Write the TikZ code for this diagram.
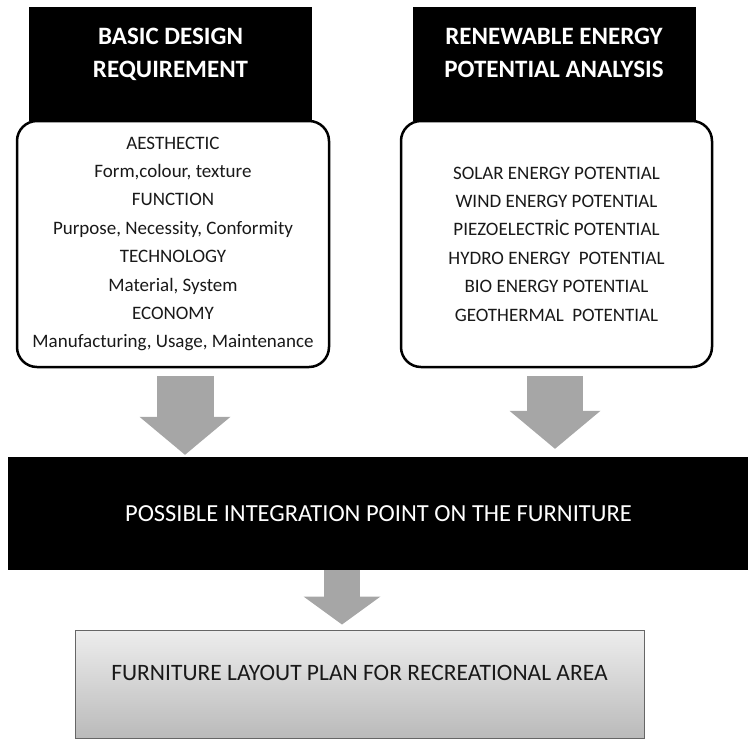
\documentclass[tikz,border=0pt]{standalone}
\usepackage{fontspec}
\setmainfont{Carlito}
\usetikzlibrary{arrows.meta}

\begin{document}
\begin{tikzpicture}[x=1pt, y=-1pt,
    headbox/.style={fill=black, text=white, inner sep=0pt, align=center, font=\bfseries\fontsize{25}{33}\selectfont, minimum width=283pt, minimum height=114pt, text depth=22pt},
    bodybox/.style={draw, line width=2.5pt, rounded corners=20pt, fill=white, inner sep=0pt, align=center, font=\fontsize{19}{28.4}\selectfont, text=black!90, minimum height=246pt},
    blockarrow/.style={color=black!35, line width=57pt, -{Triangle[width=91pt, length=38pt, line width=0pt]}}]
            \useasboundingbox (0, 0) rectangle (748, 740);
            \node[headbox] (basichead) at (170.5, 64) {BASIC DESIGN\\REQUIREMENT};
            \node[headbox] (energyhead) at (554, 64) {RENEWABLE ENERGY\\POTENTIAL ANALYSIS};
            \node[bodybox, minimum width=312pt] (basicbody) at (173, 244) {AESTHECTIC\\Form,colour, texture\\FUNCTION\\Purpose, Necessity, Conformity\\TECHNOLOGY\\Material, System\\ECONOMY\\Manufacturing, Usage, Maintenance};
            \node[bodybox, minimum width=311pt] (energybody) at (556.5, 244) {SOLAR ENERGY POTENTIAL\\WIND ENERGY POTENTIAL\\PIEZOELECTRİC POTENTIAL\\HYDRO ENERGY\ \ POTENTIAL\\BIO ENERGY POTENTIAL\\GEOTHERMAL\ \ POTENTIAL};
            \node[fill=black, text=white, inner sep=0pt, font=\fontsize{24.5}{28}\selectfont, minimum width=741pt, minimum height=113pt] (integ) at (378.5, 513.5) {POSSIBLE INTEGRATION POINT ON THE FURNITURE};
            \node[draw=black!60, line width=1pt, top color=black!7, bottom color=black!27, inner sep=0pt, font=\fontsize{23.5}{28}\selectfont, text=black!90, text height=16pt, text depth=24pt, minimum width=569pt, minimum height=108pt] (plan) at (359.5, 684) {FURNITURE LAYOUT PLAN FOR RECREATIONAL AREA};
            \draw[blockarrow, shorten <=8pt, shorten >=2pt] ([xshift=12pt]basicbody.south) -- ([xshift=12pt]basicbody.south |- integ.north);
            \draw[blockarrow, line width=56pt, shorten <=8pt, shorten >=8pt] ([xshift=-1.5pt]energybody.south) -- ([xshift=-1.5pt]energybody.south |- integ.north);
            \draw[blockarrow, line width=36pt, -{Triangle[width=77pt, length=28pt, line width=0pt]}, shorten >=5pt] ([xshift=-36.5pt]integ.south) -- ([xshift=-36.5pt]integ.south |- plan.north);
        \end{tikzpicture}
\end{document}
